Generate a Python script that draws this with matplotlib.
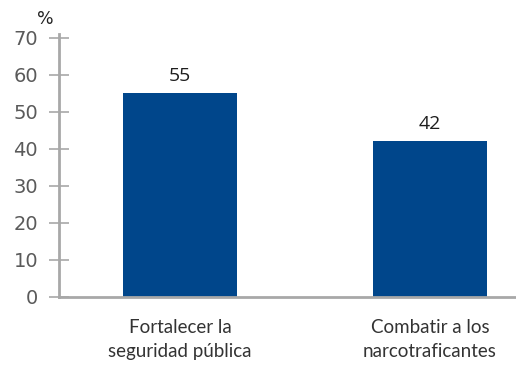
import matplotlib.pyplot as plt

categories = ["Fortalecer la\nseguridad pública", "Combatir a los\nnarcotraficantes"]
values = [55, 42]
yticks = [0, 10, 20, 30, 40, 50, 60, 70]

bar_color = "#00468b"
axis_color = "#a8a8a8"
text_color = "#5a5a5a"

fig = plt.figure(figsize=(5.16, 3.68), dpi=100)
ax = fig.add_axes([59 / 516, 1 - 297 / 368, 1 - 59 / 516, 263 / 368])

x = list(range(len(categories)))
ax.bar(x, values, width=0.456, color=bar_color, zorder=2)

for xi, v in zip(x, values):
    ax.text(xi, v + 2.3, str(v), ha="center", va="bottom",
            fontsize=14, color="#1e1e1e", family="Open Sans")

ax.set_xlim(-0.484, 1.344)
ax.set_ylim(0, 71)
ax.set_yticks(yticks)
ax.set_yticklabels([str(t) for t in yticks], family="DejaVu Sans",
                   fontsize=14, color=text_color)
ax.tick_params(axis="y", direction="inout", length=14, width=1.2,
               color=axis_color, pad=8)
ax.set_xticks([])

for side in ["top", "right"]:
    ax.spines[side].set_visible(False)
for side in ["left", "bottom"]:
    ax.spines[side].set_color(axis_color)
    ax.spines[side].set_linewidth(2)

for xi, label in zip(x, categories):
    ax.text(xi, -6.0, label, ha="center", va="top", fontsize=13.5,
            family="Lato", color="#333333", linespacing=1.45)

ax.text(-0.54, 72.5, "%", ha="center", va="bottom", fontsize=12.5,
        family="DejaVu Sans", color="#222222")

fig.savefig("out.png", dpi=100)
